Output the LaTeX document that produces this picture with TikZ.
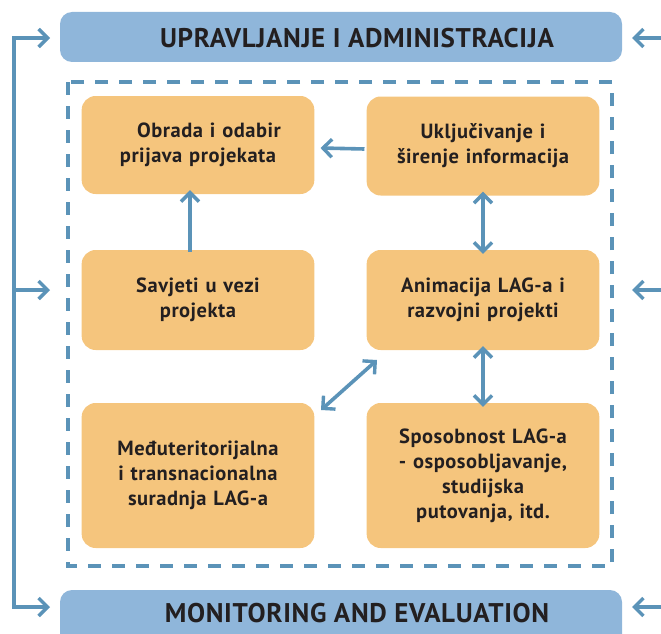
\documentclass[tikz,border=0pt]{standalone}
\usepackage{fontspec}
\setmainfont{PT Sans}
\newfontfamily\labelfont[LetterSpace=2.5]{PT Sans}
\usetikzlibrary{arrows.meta}
\definecolor{barblue}{HTML}{8FB6DA}
\definecolor{linkblue}{HTML}{5B93B8}
\definecolor{boxorange}{HTML}{F5C57D}
\definecolor{txt}{HTML}{231F20}
\tikzset{
  bar/.style={fill=barblue, rounded corners=12pt, draw=none},
  task/.style={fill=boxorange, rounded corners=14pt, draw=none, minimum width=230pt,
    text width=226pt, align=center, font=\labelfont\fontsize{20.5}{25}\selectfont\bfseries, text=txt},
  bartext/.style={font=\labelfont\fontsize{27}{30}\selectfont\bfseries, text=txt},
  tip/.style={Straight Barb[length=9pt,width=18pt,line width=3.4pt]},
  link/.style={draw=linkblue, line width=3.6pt, -{Straight Barb[length=9pt,width=18pt,line width=3.4pt]}},
  dlink/.style={link, {Straight Barb[length=9pt,width=18pt,line width=3.4pt]}-{Straight Barb[length=9pt,width=18pt,line width=3.4pt]}},
}
\begin{document}
\begin{tikzpicture}[x=1pt,y=-1pt]
\useasboundingbox (0,0) rectangle (661,634);
% management and monitoring bars
\fill[bar] (60,12) rectangle (622,62);
\node[bartext] (top) at (357,38) {UPRAVLJANJE I ADMINISTRACIJA};
\fill[bar] (60,590) rectangle (622,650);
\node[bartext] (bot) at (357,613) {MONITORING AND EVALUATION};
% dashed frame
\draw[linkblue, line width=3.4pt, dash pattern=on 13pt off 11pt] (68,82) rectangle (612,566);
% activity boxes
\node[task, minimum height=98pt] (obr) at (198,145) {\hspace*{22pt}Obrada i odabir\\prijava projekata};
\node[task, minimum height=99pt] (ukl) at (483,146) {Uključivanje i\\širenje informacija};
\node[task, minimum height=100pt] (sav) at (198,300) {Savjeti u vezi\\projekta};
\node[task, minimum height=100pt] (ani) at (483,300) {Animacija LAG-a i\\razvojni projekti};
\node[task, minimum height=145pt] (med) at (198,475.5) {Međuteritorijalna\\i transnacionalna\\suradnja LAG-a};
\node[task, minimum height=145pt] (spo) at (483,475.5) {Sposobnost LAG-a\\- osposobljavanje,\\studijska\\putovanja, itd.};
% links between boxes
\draw[link] ([yshift=-3pt]ukl.west) ++(-2,0) -- ([xshift=6pt,yshift=-3pt]obr.east);
\draw[link] ([xshift=-8pt,yshift=-2pt]sav.north) -- ([xshift=-8pt,yshift=4pt]obr.south);
\draw[dlink] ([yshift=4pt]ukl.south) -- ([yshift=-4pt]ani.north);
\draw[dlink] ([yshift=4pt]ani.south) -- ([yshift=-4pt]spo.north);
\coordinate (d1) at (377,360);
\coordinate (d2) at (321,410);
\draw[dlink] (d1) -- (d2);
% feedback loop on the left
\coordinate (lt) at (14,38);
\coordinate (lb) at (14,607);
\coordinate (lm) at (14,290);
\coordinate (at) at (50,38);
\coordinate (am) at (50,290);
\coordinate (ab) at (50,607);
\draw[linkblue, line width=3.6pt] (lt) -- (lb);
\draw[link] ([xshift=-1.8pt]lt) -- (at);
\draw[link] (lm) -- (am);
\draw[link] ([xshift=-1.8pt]lb) -- (ab);
% inputs from the right
\coordinate (rt) at (665,38);
\coordinate (rm) at (665,290);
\coordinate (rb) at (665,607);
\coordinate (ct) at (632,38);
\coordinate (cm) at (632,290);
\coordinate (cb) at (632,607);
\draw[link] (rt) -- (ct);
\draw[link] (rm) -- (cm);
\draw[link] (rb) -- (cb);
\end{tikzpicture}
\end{document}
